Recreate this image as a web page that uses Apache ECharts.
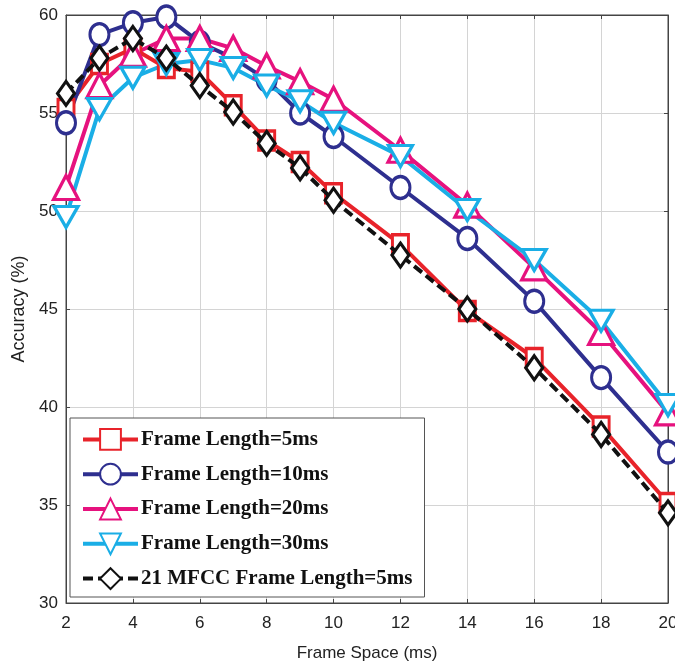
<!DOCTYPE html>
<html><head><meta charset="utf-8">
<script src="https://cdn.jsdelivr.net/npm/echarts@6/dist/echarts.min.js"></script>
<style>html,body{margin:0;padding:0;background:#fff}#c{width:675px;height:664px}</style>
</head><body><div id="c"></div>
<script>
const frameSpace = [2,3,4,5,6,7,8,9,10,12,14,16,18,20];
const len5  = [55.2,57.5,58.3,57.3,57.1,55.4,53.6,52.5,50.9,48.3,44.9,42.5,39.0,35.1];
const len10 = [54.5,59.0,59.6,59.9,58.6,57.8,56.7,55.0,53.8,51.2,48.6,45.4,41.5,37.7];
const len20 = [51.2,56.4,58.0,58.8,58.8,58.3,57.4,56.6,55.7,53.1,50.3,47.1,43.8,39.7];
const len30 = [49.7,55.2,56.8,57.5,57.7,57.3,56.4,55.6,54.5,52.8,50.05,47.5,44.4,40.1];
const mfcc21 = [56.0,57.8,58.8,57.8,56.4,55.05,53.45,52.2,50.55,47.75,45.0,42.0,38.6,34.6];
const names = ['Frame Length=5ms','Frame Length=10ms','Frame Length=20ms','Frame Length=30ms','21 MFCC Frame Length=5ms'];

const pair = a => frameSpace.map((x,i)=>[x,a[i]]);
function mk(name, data, color, symbol, size, rot, dashed){
  return {
    name, type:'line', data: pair(data), symbol, symbolSize:size, symbolRotate:rot||0,
    lineStyle:{color, width:4, type: dashed?[10,5]:'solid'},
    itemStyle:{color:'#fff', borderColor:color, borderWidth:3.2},
    z: dashed?5:3
  };
}
const chart = echarts.init(document.getElementById('c'));
const axisFont = {fontFamily:'Liberation Sans, Arial', fontSize:17, color:'#222'};
chart.setOption({
  animation:false,
  grid:{left:66, right:7, top:15, bottom:61, outerBoundsMode:'none', containLabel:false, show:true, borderColor:'#444', borderWidth:1},
  xAxis:[{type:'value', min:2, max:20, interval:2,
    name:'Frame Space (ms)', nameLocation:'middle', nameGap:42,
    nameTextStyle:{fontFamily:'Liberation Sans, Arial', fontSize:17, color:'#222'},
    axisLabel:Object.assign({margin:12}, axisFont),
    axisLine:{lineStyle:{color:'#444'}},
    axisTick:{inside:true, length:4, lineStyle:{color:'#444'}},
    splitLine:{show:true, lineStyle:{color:'#d4d4d4', width:1}}},
    {type:'value', position:'top', min:2, max:20, interval:2, axisLabel:{show:false},
     axisLine:{lineStyle:{color:'#444'}}, axisTick:{inside:true,length:4,lineStyle:{color:'#444'}}, splitLine:{show:false}}],
  yAxis:[{type:'value', min:30, max:60, interval:5,
    name:'Accuracy (%)', nameLocation:'middle', nameGap:37,
    nameTextStyle:{fontFamily:'Liberation Sans, Arial', fontSize:18, color:'#222'},
    axisLabel:Object.assign({margin:8}, axisFont),
    axisLine:{show:true, lineStyle:{color:'#444'}},
    axisTick:{show:true, inside:true, length:4, lineStyle:{color:'#444'}},
    splitLine:{show:true, lineStyle:{color:'#d4d4d4', width:1}}},
    {type:'value', position:'right', min:30, max:60, interval:5, axisLabel:{show:false},
     axisLine:{show:true, lineStyle:{color:'#444'}}, axisTick:{show:true,inside:true,length:4,lineStyle:{color:'#444'}}, splitLine:{show:false}}],
  legend:{
    orient:'vertical', left:70, top:418, data:names,
    backgroundColor:'#fff', borderColor:'#555', borderWidth:1,
    padding:[10,12,7,11], itemGap:12, itemWidth:55, itemHeight:26,
    lineStyle:{width:4},
    textStyle:{fontFamily:'Liberation Serif, Times New Roman', fontWeight:'bold', fontSize:21, color:'#111', padding:[0,0,0,-2]}
  },
  series:[
    mk(names[0], len5, '#e8232a', 'rect', [16,19]),
    mk(names[1], len10, '#2e2f8f', 'circle', [19,22]),
    mk(names[2], len20, '#e6127e', 'triangle', [25,24]),
    mk(names[3], len30, '#1aaee6', 'triangle', [24,21], 180),
    mk(names[4], mfcc21, '#111111', 'diamond', [17,24], 0, true)
  ]
});
</script></body></html>
